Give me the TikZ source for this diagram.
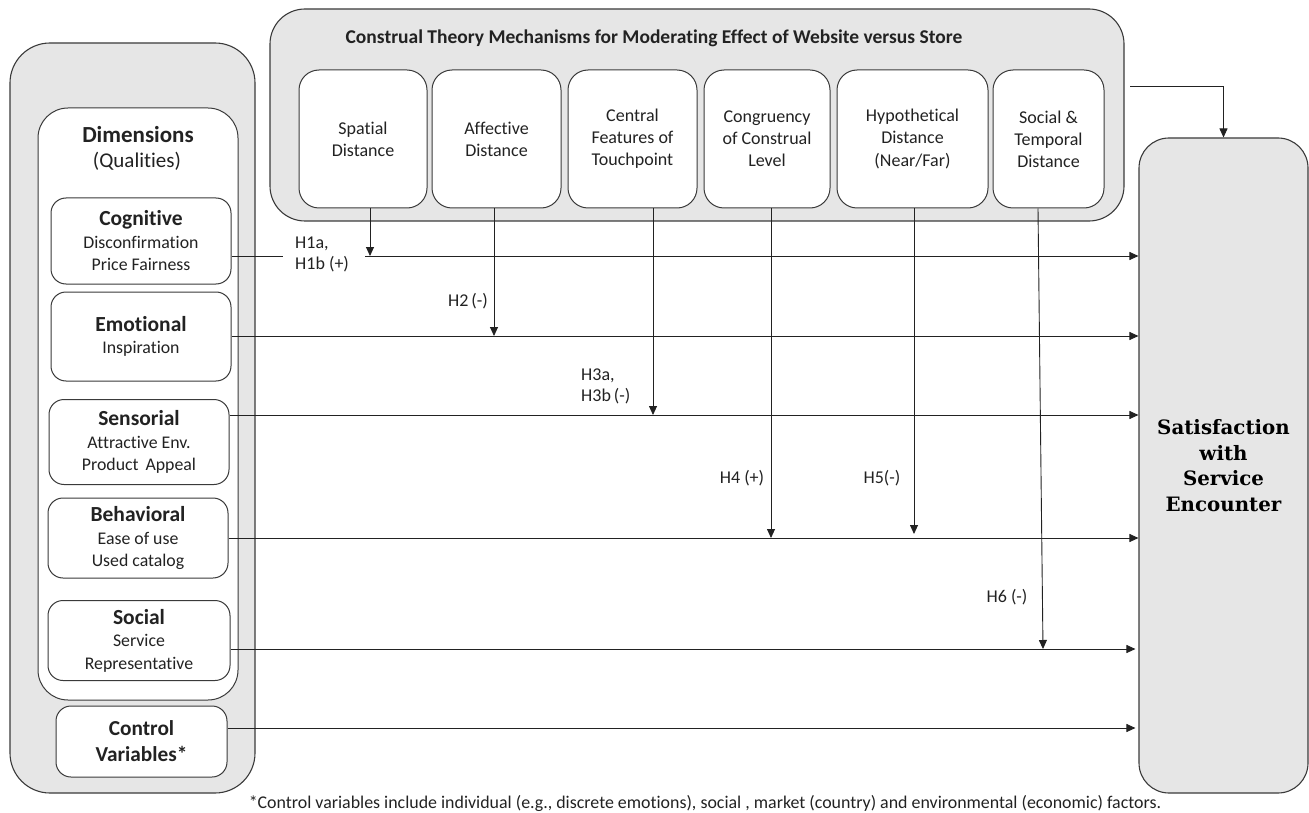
\documentclass[tikz,border=0pt]{standalone}
\usepackage{fontspec}
\setmainfont{Carlito}[Ligatures={NoCommon}]
\newfontfamily\satfont{DejaVu Serif}
\usetikzlibrary{arrows.meta}
\definecolor{panel}{HTML}{E6E6E6}
\definecolor{edge}{HTML}{3A3A3A}
\definecolor{ink}{HTML}{222222}
\newcommand\boxttl{\fontsize{21.5}{23}\selectfont\bfseries}
\begin{document}
\begin{tikzpicture}[x=1pt,y=-1pt,
  panelbox/.style={draw=edge, line width=1.1pt, fill=panel, inner sep=0pt},
  wbox/.style={draw=edge, line width=1pt, fill=white, rounded corners=15pt, inner sep=0pt, align=center,
    font=\fontsize{17.8}{22.5}\selectfont, text=ink},
  mbox/.style={wbox, rounded corners=20pt, minimum height=138pt, font=\fontsize{18}{22}\selectfont},
  lbl/.style={font=\fontsize{18}{21}\selectfont, text=ink, inner sep=0pt, align=left},
  arr/.style={draw=ink, line width=0.9pt, -{Triangle[length=9pt,width=8pt]}},
  ln/.style={draw=ink, line width=0.9pt}
]
\useasboundingbox (0,0) rectangle (1309,813);

% panels
\node[panelbox, rounded corners=40pt, minimum width=245pt, minimum height=750pt] (left) at (132.5,418) {};
\node[panelbox, rounded corners=35pt, minimum width=854pt, minimum height=212pt] (top) at (697,115) {};
\node[panelbox, rounded corners=30pt, minimum width=169pt, minimum height=655pt,
      font=\satfont\bfseries\fontsize{19.8}{25.5}\selectfont, align=center, text=black] (sat) at (1223.5,465.5)
      {Satisfaction\\with\\Service\\Encounter};

% dimensions box
\node[wbox, rounded corners=30pt, minimum width=200pt, minimum height=592pt] (dim) at (138,404) {};
\node[inner sep=0pt, text=ink, font=\fontsize{23}{25}\selectfont\bfseries] (dimtitle) at (138,135) {Dimensions};
\node[inner sep=0pt, text=ink, font=\fontsize{21}{23}\selectfont] (dimsub) at (137,161) {(Qualities)};

% dimension boxes
\node[wbox, minimum width=180pt, minimum height=86pt] (cog) at (141,241)
  {{\boxttl Cognitive}\\Disconfirmation\\Price Fairness};
\node[wbox, minimum width=180pt, minimum height=89pt] (emo) at (141,336.5)
  {{\boxttl Emotional}\\Inspiration};
\node[wbox, minimum width=180pt, minimum height=85pt] (sen) at (139,442)
  {{\boxttl Sensorial}\\Attractive Env.\\Product\, Appeal};
\node[wbox, minimum width=180pt, minimum height=80pt] (beh) at (138,538)
  {{\boxttl Behavioral}\\Ease of use\\Used catalog};
\node[wbox, minimum width=182pt, minimum height=80pt] (soc) at (139,640.5)
  {{\boxttl Social}\\Service\\Representative};
\node[wbox, minimum width=171pt, minimum height=71pt, font=\fontsize{21.3}{26}\selectfont\bfseries] (ctl) at (141.5,741.5)
  {Control\\Variables*};

% top panel
\node[inner sep=0pt, font=\fontsize{19.5}{22}\selectfont\bfseries, text=ink] (toptitle) at (654,38)
  {Construal Theory Mechanisms for Moderating Effect of Website versus Store};
\node[mbox, minimum width=128pt] (sp) at (363,139) {Spatial\\Distance};
\node[mbox, minimum width=129pt] (af) at (496.5,139) {Affective\\Distance};
\node[mbox, minimum width=129pt] (ce) at (632.5,139) {Central\\Features of\\Touchpoint};
\node[mbox, minimum width=126pt] (co) at (767,139) {Congruency\\of Construal\\Level};
\node[mbox, minimum width=151pt] (hy) at (912.5,139) {Hypothetical\\Distance\\(Near/Far)};
\node[mbox, minimum width=111pt] (st) at (1048.5,139) {Social \&\\Temporal\\Distance};

% rows
\coordinate (r1) at (0,256);
\coordinate (r2) at (0,336);
\coordinate (r3) at (0,415);
\coordinate (r4) at (0,538);
\coordinate (r5) at (0,649);
\coordinate (r6) at (0,728);
\coordinate (g1a) at (283,256);
\coordinate (g1b) at (365,256);

\draw[ln] (cog.east |- r1) -- (g1a);
\draw[arr] (g1b) -- (sat.west |- r1);
\draw[arr] (emo.east |- r2) -- (sat.west |- r2);
\draw[arr] (sen.east |- r3) -- (sat.west |- r3);
\draw[arr] (beh.east |- r4) -- (sat.west |- r4);
\draw[arr] (soc.east |- r5) -- ([xshift=-3pt]sat.west |- r5);
\draw[arr] (ctl.east |- r6) -- ([xshift=-3pt]sat.west |- r6);

% moderating arrows
\coordinate (m1) at (370,256);
\coordinate (m2) at (494,336);
\coordinate (m3) at (653,415);
\coordinate (m4) at (771,538);
\coordinate (m5) at (914,534);
\coordinate (m6) at (1043,649);
\coordinate (m6top) at (1038,0);
\draw[arr] (sp.south -| m1) -- (m1);
\draw[arr] (af.south -| m2) -- (m2);
\draw[arr] (ce.south -| m3) -- (m3);
\draw[arr] (co.south -| m4) -- (m4);
\draw[arr] (hy.south -| m5) -- (m5);
\draw[arr] (st.south -| m6top) -- (m6);

\coordinate (tstart) at (1130,86);
\draw[arr] (tstart) -| (sat.north);

% labels
\node[lbl, anchor=west] (h1) at (295,254) {H1a,\\H1b (+)};
\node[lbl] (h2) at (468,301) {H2\,(-)};
\node[lbl, anchor=west] (h3) at (581,386) {H3a,\\H3b\,(-)};
\node[lbl] (h4) at (742,478) {H4 (+)};
\node[lbl] (h5) at (882,478) {H5(-)};
\node[lbl] (h6) at (1007,597) {H6 (-)};

% footnote
\node[inner sep=0pt, font=\fontsize{17.9}{20}\selectfont, text=ink] (foot) at (705,803)
  {*Control variables include individual (e.g., discrete emotions), social , market (country) and environmental (economic) factors.};
\end{tikzpicture}
\end{document}
